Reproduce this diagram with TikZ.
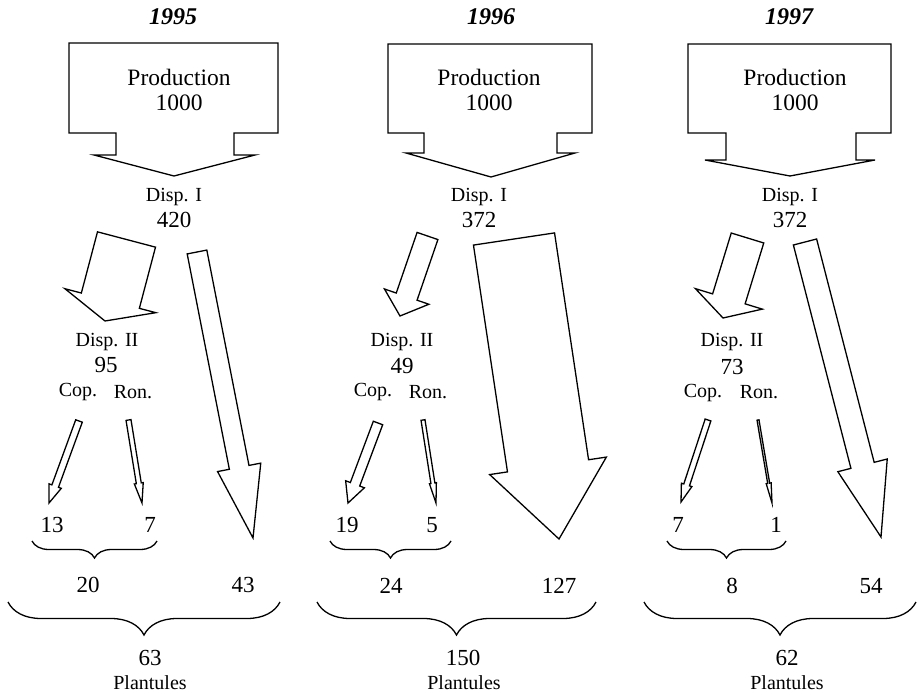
\documentclass[tikz,border=0pt]{standalone}
\usepackage{fontspec}
\setmainfont{Liberation Serif}
\usetikzlibrary{calc,decorations.pathreplacing}

\tikzset{
  boxline/.style={line width=1.3pt},
  fatline/.style={line width=1.3pt},
  yearlbl/.style={font=\fontsize{24}{27}\selectfont\bfseries\itshape},
  numlbl/.style={font=\fontsize{23}{25}\selectfont},
  namelbl/.style={font=\fontsize{20}{22}\selectfont},
  smallbrace/.style={decorate,decoration={brace,mirror,amplitude=17pt},line width=1.3pt},
  bigbrace/.style={decorate,decoration={brace,mirror,amplitude=33pt},line width=1.3pt}
}

% fat arrow from (#1-tail) to (#1-tip): shaft half width, head half width, head length
\newcommand{\fatarrow}[4]{%
  \coordinate (#1-neck) at ($(#1-tip)!#4pt!(#1-tail)$);
  \draw[fatline] ($(#1-tail)!#2pt!90:(#1-tip)$) -- ($(#1-neck)!#2pt!90:(#1-tip)$)
    -- ($(#1-neck)!#3pt!90:(#1-tip)$) -- (#1-tip) -- ($(#1-neck)!#3pt!-90:(#1-tip)$)
    -- ($(#1-neck)!#2pt!-90:(#1-tip)$) -- ($(#1-tail)!#2pt!-90:(#1-tip)$) -- cycle;}

\begin{document}
\begin{tikzpicture}[x=1pt,y=-1pt]
\useasboundingbox (0,0) rectangle (918,695);

% ---------------- 1995 ----------------
\node[yearlbl] (yeara) at (173,17) {1995};
\draw[boxline] (69,43) -- (278,43) -- (278,133) -- (234,133) -- (234,155) -- (255,155)
  -- (174,176) -- (94,155) -- (116,155) -- (116,133) -- (69,133) -- cycle;
\node[numlbl,font=\fontsize{23.5}{25.5}\selectfont,align=center] (proda) at (179,90) {Production\\1000};
\node[namelbl] (dispIa) at (174,197) {Disp. I};
\node[numlbl] (dispInuma) at (174,220) {420};

\coordinate (dispIIa-tail) at (126.5,239.5);
\coordinate (dispIIa-tip) at (105,321);
\fatarrow{dispIIa}{30}{47}{21}
\coordinate (plantsa-tail) at (197,252);
\coordinate (plantsa-tip) at (253,538);
\fatarrow{plantsa}{10}{22}{72}

\node[namelbl] (dispIIlbla) at (107,342) {Disp. II};
\node[numlbl] (dispIInuma) at (106,365) {95};
\node[namelbl] (copa) at (78,392) {Cop.};
\node[namelbl] (rona) at (133,392) {Ron.};

\coordinate (copa-tail) at (79,421);
\coordinate (copa-tip) at (49,503);
\fatarrow{copa}{3.5}{6.5}{18}
\coordinate (rona-tail) at (128.5,420);
\coordinate (rona-tip) at (142,503);
\fatarrow{rona}{2.5}{4.5}{20}

\node[numlbl] (copnuma) at (52,525) {13};
\node[numlbl] (ronnuma) at (150,525) {7};
\draw[smallbrace] (32,541) -- (157,541);
\node[numlbl] (suma) at (88,585) {20};
\node[numlbl] (directa) at (243,585) {43};
\draw[bigbrace] (8,602) -- (280,602);
\node[numlbl] (totala) at (150,658) {63};
\node[namelbl] (plantulesa) at (150,683) {Plantules};

% ---------------- 1996 ----------------
\node[yearlbl] (yearb) at (491,17) {1996};
\draw[boxline] (388,44) -- (592,44) -- (592,133) -- (557,133) -- (557,153) -- (575,153)
  -- (491,177) -- (406,153) -- (424,153) -- (424,133) -- (388,133) -- cycle;
\node[numlbl,font=\fontsize{23.5}{25.5}\selectfont,align=center] (prodb) at (489,90) {Production\\1000};
\node[namelbl] (dispIb) at (479,197) {Disp. I};
\node[numlbl] (dispInumb) at (479,220) {372};

\coordinate (dispIIb-tail) at (427.5,236);
\coordinate (dispIIb-tip) at (400,316);
\fatarrow{dispIIb}{11}{23.5}{20.5}
\coordinate (plantsb-tail) at (514,239);
\coordinate (plantsb-tip) at (559,539);
\fatarrow{plantsb}{41}{59}{74}

\node[namelbl] (dispIIlblb) at (402,342) {Disp. II};
\node[numlbl] (dispIInumb) at (402,366) {49};
\node[namelbl] (copb) at (373,392) {Cop.};
\node[namelbl] (ronb) at (428,392) {Ron.};

\coordinate (copb-tail) at (378,423);
\coordinate (copb-tip) at (348,503);
\fatarrow{copb}{5}{10}{20}
\coordinate (ronb-tail) at (423,420);
\coordinate (ronb-tip) at (436,503);
\fatarrow{ronb}{2}{3.5}{20}

\node[numlbl] (copnumb) at (347,525) {19};
\node[numlbl] (ronnumb) at (432,525) {5};
\draw[smallbrace] (330,541) -- (451,541);
\node[numlbl] (sumb) at (391,586) {24};
\node[numlbl] (directb) at (559,586) {127};
\draw[bigbrace] (317,602) -- (596,602);
\node[numlbl] (totalb) at (463,658) {150};
\node[namelbl] (plantulesb) at (464,683) {Plantules};

% ---------------- 1997 ----------------
\node[yearlbl] (yearc) at (789,17) {1997};
\draw[boxline] (688,44) -- (891,44) -- (891,133) -- (856,133) -- (856,160) -- (875,160)
  -- (790,176) -- (705,160) -- (726,160) -- (726,133) -- (688,133) -- cycle;
\node[numlbl,font=\fontsize{23.5}{25.5}\selectfont,align=center] (prodc) at (795,90) {Production\\1000};
\node[namelbl] (dispIc) at (790,197) {Disp. I};
\node[numlbl] (dispInumc) at (790,220) {372};

\coordinate (dispIIc-tail) at (747.5,238);
\coordinate (dispIIc-tip) at (723,318);
\fatarrow{dispIIc}{17}{35}{20}
\coordinate (plantsc-tail) at (805,242);
\coordinate (plantsc-tip) at (881,537);
\fatarrow{plantsc}{12}{25.5}{74}

\node[namelbl] (dispIIlblc) at (732,342) {Disp. II};
\node[numlbl] (dispIInumc) at (732,367) {73};
\node[namelbl] (copc) at (703,393) {Cop.};
\node[namelbl] (ronc) at (759,392) {Ron.};

\coordinate (copc-tail) at (708,420);
\coordinate (copc-tip) at (681,502);
\fatarrow{copc}{3}{5.5}{18}
\coordinate (ronc-tail) at (758,420);
\coordinate (ronc-tip) at (772,503);
\fatarrow{ronc}{1}{2.5}{20}

\node[numlbl] (copnumc) at (678,525) {7};
\node[numlbl] (ronnumc) at (776,525) {1};
\draw[smallbrace] (667,541) -- (786,541);
\node[numlbl] (sumc) at (732,586) {8};
\node[numlbl] (directc) at (871,586) {54};
\draw[bigbrace] (644,602) -- (916,602);
\node[numlbl] (totalc) at (787,658) {62};
\node[namelbl] (plantulesc) at (787,683) {Plantules};

\end{tikzpicture}
\end{document}
